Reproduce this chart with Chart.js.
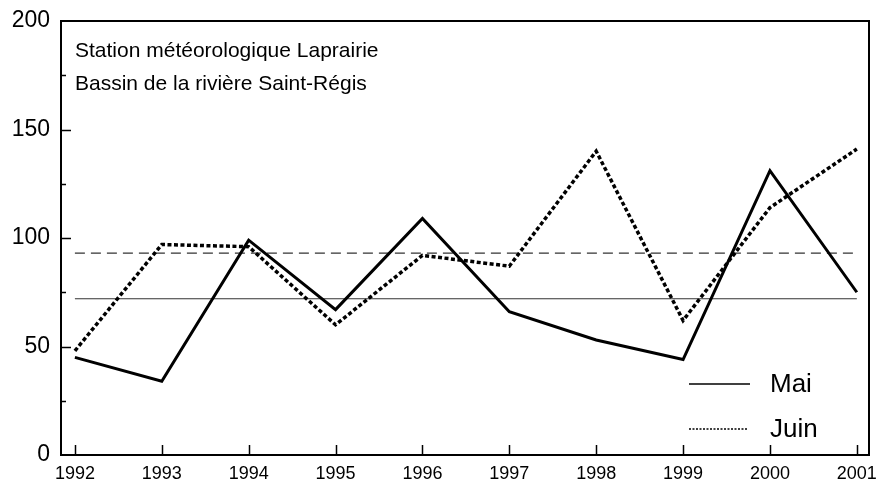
<!DOCTYPE html>
<html lang="fr">
<head>
    <meta charset="UTF-8">
    <title>Précipitations mai / juin</title>
    <script src="https://cdn.jsdelivr.net/npm/chart.js"></script>
    <style>
      body { margin: 0; background: #ffffff; }
      .grafico { width: 878px; height: 485px; }
    </style>
</head>
<body>
  <div class="grafico">
    <canvas id="graficoPluie" width="878" height="485"></canvas>
  </div>

<script>
  // Données
  const annees = [1992, 1993, 1994, 1995, 1996, 1997, 1998, 1999, 2000, 2001];
  const valeursMai = [45, 34, 99, 67, 109, 66, 53, 44, 131, 75];
  const valeursJuin = [48, 97, 96, 60, 92, 87, 140, 62, 114, 141];
  const moyenneMai = 72;
  const moyenneJuin = 93;
  const ticksY = [0, 50, 100, 150, 200];
  const titreLignes = ['Station météorologique Laprairie', 'Bassin de la rivière Saint-Régis'];
  const legendeNoms = ['Mai', 'Juin'];

  const police = "'Liberation Sans', Arial, sans-serif";

  function pointsDe(valeurs) {
    let pts = [];
    for (i = 0; i < annees.length; i++) {
      pts.push({ x: annees[i], y: valeurs[i] });
    }
    return pts;
  }

  function ligneMoyenne(valeur) {
    return [
      { x: annees[0], y: valeur },
      { x: annees[annees.length - 1], y: valeur }
    ];
  }

  // cadre, petites marques vers l'intérieur, titre et légende
  const decorPlugin = {
    id: 'decor',
    afterDraw(chart) {
      const ctx = chart.ctx;
      const area = chart.chartArea;
      const sx = chart.scales.x;
      const sy = chart.scales.y;

      ctx.save();
      ctx.strokeStyle = '#000';
      ctx.lineWidth = 2;
      ctx.strokeRect(area.left, area.top, area.right - area.left, area.bottom - area.top);

      // marques de l'axe x
      ctx.lineWidth = 1.5;
      ctx.beginPath();
      for (i = 0; i < annees.length; i++) {
        let px = Math.round(sx.getPixelForValue(annees[i])) + 0.5;
        ctx.moveTo(px, area.bottom);
        ctx.lineTo(px, area.bottom - 10);
      }
      // marques de l'axe y (majeures et mineures)
      for (v = 25; v < 200; v += 25) {
        let py = Math.round(sy.getPixelForValue(v)) + 0.5;
        let longueur = (v % 50 === 0) ? 10 : 5;
        ctx.moveTo(area.left, py);
        ctx.lineTo(area.left + longueur, py);
      }
      ctx.stroke();

      // titre dans la zone du graphique
      ctx.fillStyle = '#000';
      ctx.font = '21px ' + police;
      ctx.textBaseline = 'alphabetic';
      ctx.textAlign = 'left';
      ctx.fillText(titreLignes[0], area.left + 14, 57);
      ctx.fillText(titreLignes[1], area.left + 14, 90);

      // légende en bas à droite
      ctx.font = '26px ' + police;
      ctx.textBaseline = 'middle';
      const yMai = 384;
      const yJuin = 429;
      ctx.lineWidth = 1.5;
      ctx.beginPath();
      ctx.moveTo(689, yMai);
      ctx.lineTo(750, yMai);
      ctx.stroke();
      ctx.setLineDash([2, 1.5]);
      ctx.lineWidth = 1.5;
      ctx.beginPath();
      ctx.moveTo(689, yJuin);
      ctx.lineTo(748, yJuin);
      ctx.stroke();
      ctx.setLineDash([]);
      ctx.fillText(legendeNoms[0], 770, yMai + 1);
      ctx.fillText(legendeNoms[1], 770, yJuin + 1);
      ctx.restore();
    }
  };

  const dadosGrafico = {
    datasets: [
      {
        label: legendeNoms[0],
        data: pointsDe(valeursMai),
        borderColor: '#000',
        borderWidth: 3,
        borderJoinStyle: 'miter',
        pointRadius: 0,
        tension: 0
      },
      {
        label: legendeNoms[1],
        data: pointsDe(valeursJuin),
        borderColor: '#000',
        borderWidth: 3.5,
        borderDash: [4, 2.5],
        borderJoinStyle: 'miter',
        pointRadius: 0,
        tension: 0
      },
      {
        label: 'Moyenne mai',
        data: ligneMoyenne(moyenneMai),
        borderColor: '#333',
        borderWidth: 1.2,
        pointRadius: 0
      },
      {
        label: 'Moyenne juin',
        data: ligneMoyenne(moyenneJuin),
        borderColor: '#333',
        borderWidth: 1.2,
        borderDash: [10, 6],
        pointRadius: 0
      }
    ]
  };

  const configGrafico = {
    type: 'line',
    data: dadosGrafico,
    options: {
      responsive: false,
      animation: false,
      layout: { padding: { left: 0, top: 21, right: 9, bottom: 0 } },
      plugins: {
        legend: { display: false },
        tooltip: { enabled: false }
      },
      scales: {
        x: {
          type: 'linear',
          min: 1991.84,
          max: 2001.14,
          grid: { display: false, drawTicks: false },
          border: { display: false },
          afterBuildTicks: function (scale) {
            scale.ticks = annees.map(function (a) { return { value: a }; });
          },
          afterFit: function (scale) {
            scale.height = 30;
            scale.paddingLeft = 0;
            scale.paddingRight = 0;
          },
          ticks: {
            autoSkip: false,
            maxRotation: 0,
            color: '#000',
            padding: 8,
            font: { family: police, size: 18 },
            callback: function (v) { return String(v); }
          }
        },
        y: {
          min: 0,
          max: 200,
          grid: { display: false, drawTicks: false },
          border: { display: false },
          afterBuildTicks: function (scale) {
            scale.ticks = ticksY.map(function (t) { return { value: t }; });
          },
          afterFit: function (scale) {
            scale.width = 61;
            scale.paddingTop = 0;
            scale.paddingBottom = 0;
          },
          ticks: {
            color: '#000',
            padding: 11,
            font: { family: police, size: 23 }
          }
        }
      }
    },
    plugins: [decorPlugin]
  };

  let graficoPluie = new Chart(
    document.getElementById('graficoPluie'),
    configGrafico
  );
</script>
</body>
</html>
